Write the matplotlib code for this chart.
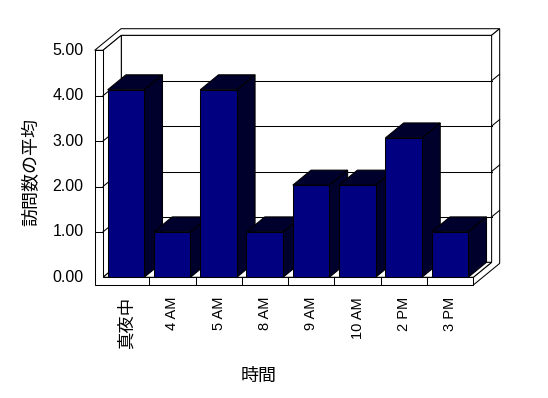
import matplotlib
matplotlib.use("Agg")
import matplotlib.pyplot as plt
from matplotlib.patches import Polygon

# Datos del gráfico
categorias = ["真夜中", "4 AM", "5 AM", "8 AM", "9 AM", "10 AM", "2 PM", "3 PM"]
promedios = [4.13, 1.00, 4.13, 1.00, 2.03, 2.03, 3.07, 1.00]
y_ticks = [0, 1, 2, 3, 4, 5]
y_ticklabels = ["0.00", "1.00", "2.00", "3.00", "4.00", "5.00"]
x_label = "時間"
y_label = "訪問数の平均"

# Lienzo en píxeles: un eje que cubre toda la figura
W, H = 548, 398
fig = plt.figure(figsize=(W / 100, H / 100), dpi=100)
ax = fig.add_axes([0, 0, 1, 1])
x0, ux = 103, 46.29     # píxel de x=0 y píxeles por categoría
y0, uy = 277.3, 45.4    # píxel de y=0 y píxeles por unidad
ax.set_xlim(-x0 / ux, (W - x0) / ux)
ax.set_ylim(-(H - y0) / uy, y0 / uy)
ax.axis("off")

# Proyección oblicua (profundidad hacia arriba a la derecha)
DX, DY = 18.3 / ux, 15.0 / uy
TW, TF, TB = 8.3 / ux, 7.7 / uy, 0.44
n = len(categorias)
ymax = y_ticks[-1]
navy = "#000080"
oscuro = "#00002c"
LW = 0.75


def p(x, y, z):
    return (x + z * DX, y + z * DY)


def cara(pts, fc, zo):
    ax.add_patch(Polygon([p(*q) for q in pts], closed=True, facecolor=fc,
                         edgecolor="black", lw=LW, zorder=zo, joinstyle="miter"))


def linea(a, b, zo):
    pa, pb = p(*a), p(*b)
    ax.plot([pa[0], pb[0]], [pa[1], pb[1]], color="black", lw=LW, zorder=zo)


# Paredes y suelo
cara([(0, 0, 1), (n, 0, 1), (n, ymax, 1), (0, ymax, 1)], "white", 1)
cara([(-TW, ymax, 0), (0, ymax, 0), (0, ymax, 1), (n, ymax, 1),
      (n, ymax, 1 + TB), (-TW, ymax, 1 + TB)], "white", 1)
cara([(n, 0, 0), (n, -TF, 0), (n, -TF, 1 + TB), (n, ymax, 1 + TB),
      (n, ymax, 1), (n, 0, 1)], "white", 1)
cara([(0, 0, 0), (0, ymax, 0), (0, ymax, 1), (0, 0, 1)], "white", 1)
cara([(0, 0, 0), (n, 0, 0), (n, 0, 1), (0, 0, 1)], "white", 1)
cara([(-TW, -TF, 0), (-TW, ymax, 0), (0, ymax, 0), (0, 0, 0),
      (n, 0, 0), (n, -TF, 0)], "white", 1)

# Líneas de cuadrícula
for v in y_ticks[1:-1]:
    linea((-TW, v, 0), (0, v, 0), 2)
    linea((0, v, 0), (0, v, 1), 2)
    linea((0, v, 1), (n, v, 1), 2)
    linea((n, v, 1), (n, v, 1 + TB), 2)

# Divisiones de categorías en el frente del suelo
for i in range(1, n):
    linea((i, 0, 0), (i, -TF, 0), 2)

# Barras: lados y tapas, luego caras frontales
izq, ancho = 0.1, 0.79
for i, v in enumerate(promedios):
    xl, xr = i + izq, i + izq + ancho
    cara([(xr, 0, 0), (xr, v, 0), (xr, v, 1), (xr, 0, 1)], oscuro, 4)
    cara([(xl, v, 0), (xr, v, 0), (xr, v, 1), (xl, v, 1)], oscuro, 4)
ax.bar([i + izq for i in range(n)], promedios, width=ancho, align="edge",
       color=navy, edgecolor="black", lw=LW, zorder=5)

# Textos
fam = ["Liberation Sans", "Noto Sans CJK JP"]
for v, lbl in zip(y_ticks, y_ticklabels):
    ax.text((83.5 - x0) / ux, v, lbl, ha="right", va="center",
            fontsize=11.5, family=fam)
for i, lbl in enumerate(categorias):
    tam = 10.5 if lbl.isascii() else 12.5
    ax.text(i + 0.5, -TF - 12 / uy, lbl, rotation=90, ha="center", va="top",
            fontsize=tam, family=fam)
ax.text((31.7 - x0) / ux, (y0 - 172.5) / uy, y_label, rotation=90,
        ha="center", va="center", fontsize=13, family=fam)
ax.text((259 - x0) / ux, (y0 - 376.7) / uy, x_label, ha="center",
        va="center", fontsize=13, family=fam)

fig.savefig("out.png", dpi=100)
